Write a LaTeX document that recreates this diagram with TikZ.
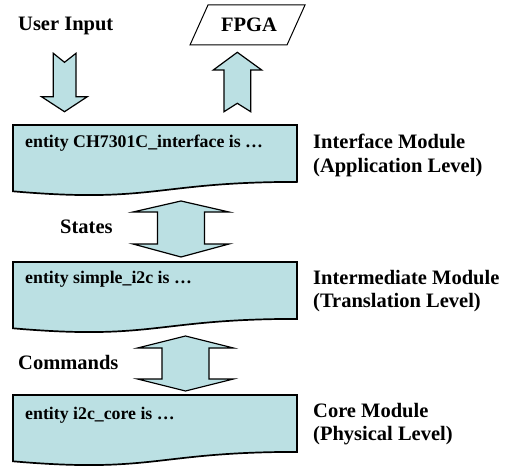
\documentclass[tikz,border=0pt]{standalone}
\usepackage{fontspec}
\setmainfont{Liberation Serif}
\definecolor{fillblue}{RGB}{187,224,227}
\tikzset{
  blk/.style={fill=fillblue, draw=black, line width=1.2pt, line join=miter},
  docshape/.style={fill=fillblue, draw=black, line width=1.7pt},
  lbl/.style={font=\bfseries\fontsize{20.5}{24}\selectfont, inner sep=0pt, anchor=base west},
  boxtxt/.style={font=\bfseries\fontsize{17.8}{20}\selectfont, inner sep=0pt, anchor=base west},
}
\begin{document}
\begin{tikzpicture}[x=1pt,y=-1pt]
\useasboundingbox (0,0) rectangle (506,468);
\fill[white] (0,0) rectangle (506,468);

% document boxes
\foreach \t in {125,262,395} {
  \draw[docshape] (13,\t) -- (297,\t) -- (297,{\t+56.9})
    .. controls (155,{\t+56.9}) and (155,{\t+78.6}) .. (13,{\t+66.3}) -- cycle;
}
\node[boxtxt] (t1) at (25,147) {entity CH7301C\_interface is …};
\node[boxtxt] (t2) at (25,283.5) {entity simple\_i2c is …};
\node[boxtxt] (t3) at (25,419) {entity i2c\_core is …};

% top labels and FPGA
\node[lbl] (user) at (18,31) {User Input};
\draw[line width=1pt, fill=white] (208,5) -- (305,5) -- (287,45) -- (190,45) -- cycle;
\node[lbl, anchor=base] (fpga) at (249,32) {FPGA};

% user input arrow (down, notched)
\draw[blk] (53.3,53.3) -- (64.5,62.3) -- (76,53.3) -- (76,96.7) -- (87.3,96.7)
  -- (64.5,111.7) -- (41.5,96.7) -- (53.3,96.7) -- cycle;
% FPGA arrow (up, notched)
\draw[blk] (237.3,52.3) -- (261.7,70) -- (250.7,70) -- (250.7,111.7) -- (237.3,103.3)
  -- (224,111.7) -- (224,70) -- (213.3,70) -- cycle;

% double arrows
\draw[blk] (181,201) -- (229,212) -- (204.5,212) -- (204.5,244) -- (229,244) -- (181,257)
  -- (133,244) -- (157.5,244) -- (157.5,212) -- (133,212) -- cycle;
\draw[blk] (185.5,336) -- (233.5,348) -- (209,348) -- (209,379) -- (233.5,379) -- (185.5,391)
  -- (137.5,379) -- (162,379) -- (162,348) -- (137.5,348) -- cycle;
\node[lbl] (states) at (60,233) {States};
\node[lbl] (cmds) at (18,369) {Commands};

% right labels
\node[lbl] (l1a) at (313,149) {Interface Module};
\node[lbl] (l1b) at (313,172) {(Application Level)};
\node[lbl] (l2a) at (313,284) {Intermediate Module};
\node[lbl] (l2b) at (313,307) {(Translation Level)};
\node[lbl] (l3a) at (313,417) {Core Module};
\node[lbl] (l3b) at (313,440) {(Physical Level)};
\end{tikzpicture}
\end{document}
